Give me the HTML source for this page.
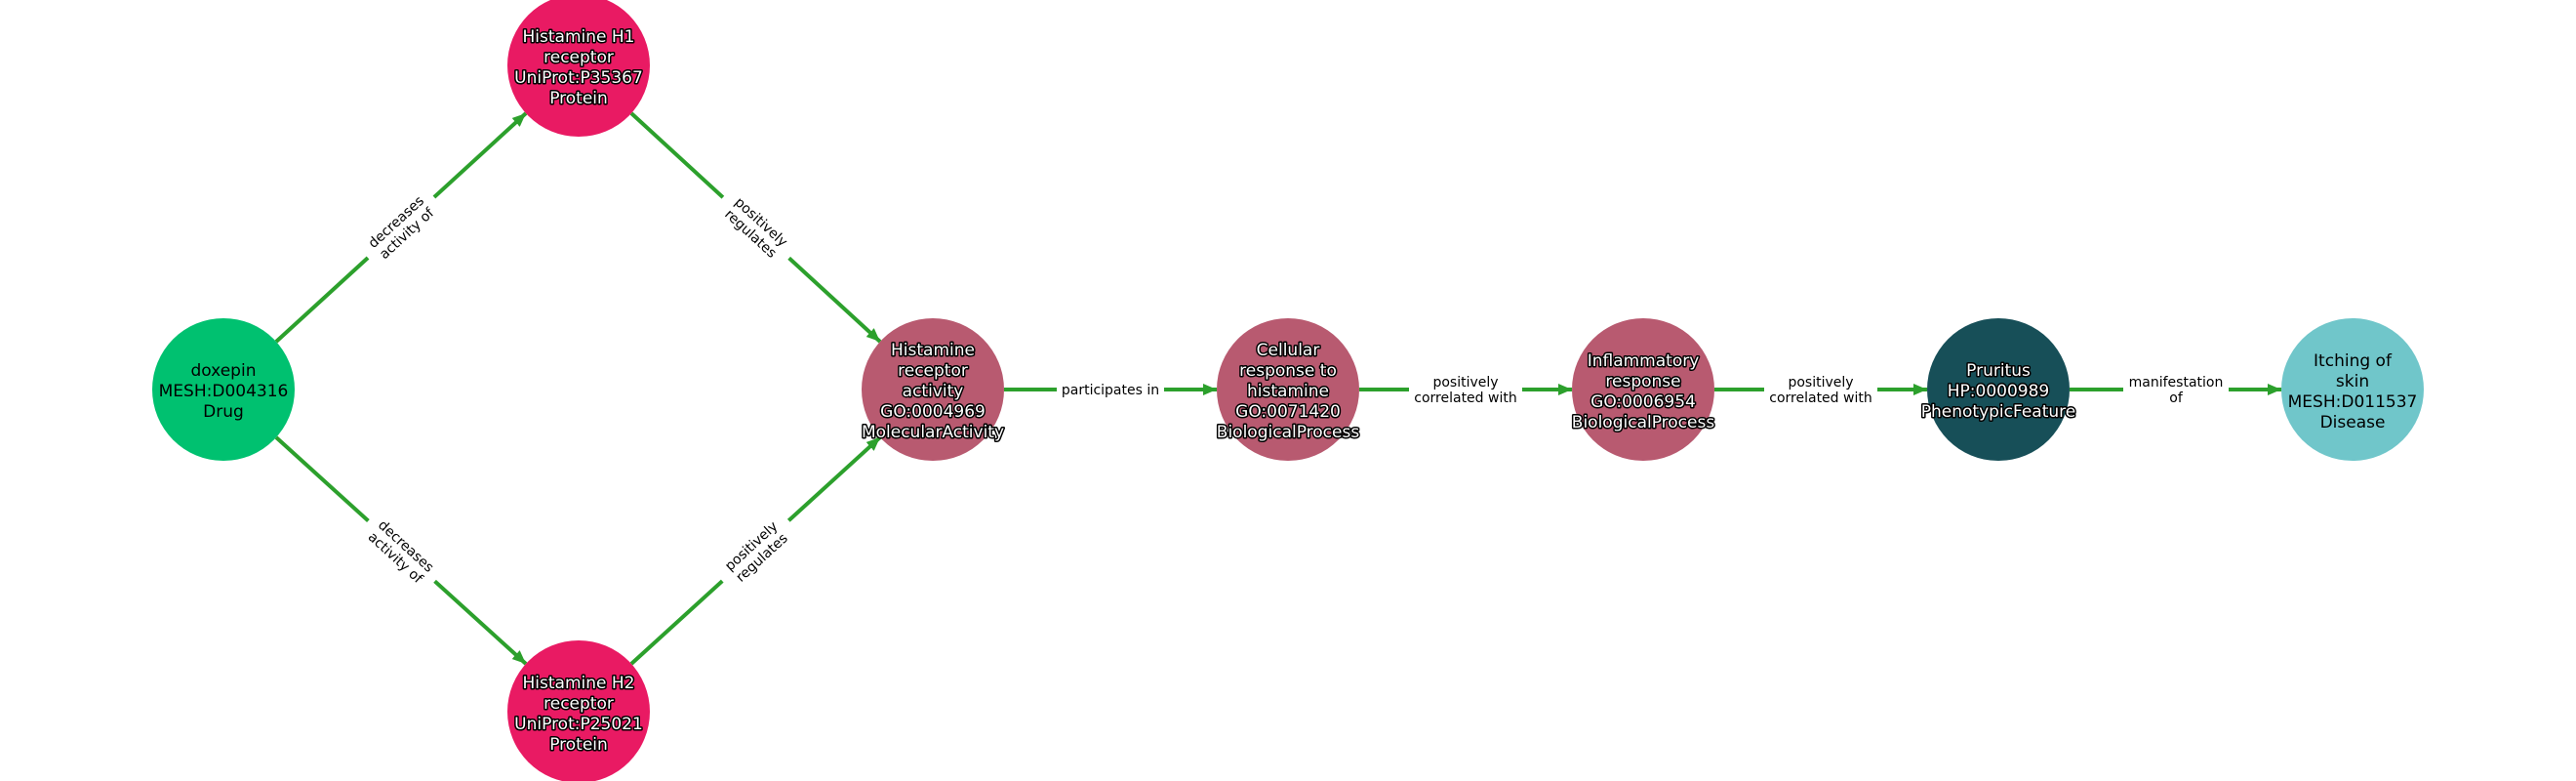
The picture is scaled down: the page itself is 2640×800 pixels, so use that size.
<!DOCTYPE html>
<html><head><meta charset="utf-8"><style>
html,body{margin:0;padding:0;background:#fff;}
svg{display:block;}
.n{font-family:"DejaVu Sans","Liberation Sans",sans-serif;font-size:17px;text-anchor:middle;}
.w{fill:#fff;stroke:#000;stroke-width:3;paint-order:stroke;stroke-linejoin:round;}
.b{fill:#000;}
.l{font-family:"DejaVu Sans","Liberation Sans",sans-serif;font-size:14px;text-anchor:middle;fill:#000;}
.e{stroke:#2ca02c;stroke-width:4;fill:none;}
</style></head><body>
<svg width="2640" height="800" viewBox="0 0 2640 800" xmlns="http://www.w3.org/2000/svg">
<defs>
<marker id="a" markerUnits="userSpaceOnUse" markerWidth="16" markerHeight="14" refX="14" refY="7" orient="auto">
<path d="M0,1 L14,7 L0,13 z" fill="#2ca02c"/>
</marker>
</defs>
<!-- edges -->
<line class="e" x1="283" y1="350" x2="539" y2="116" marker-end="url(#a)"/>
<line class="e" x1="283" y1="448" x2="539" y2="680" marker-end="url(#a)"/>
<line class="e" x1="647" y1="116" x2="902" y2="350" marker-end="url(#a)"/>
<line class="e" x1="647" y1="680" x2="902" y2="448" marker-end="url(#a)"/>
<line class="e" x1="1029" y1="399" x2="1247" y2="399" marker-end="url(#a)"/>
<line class="e" x1="1393" y1="399" x2="1611" y2="399" marker-end="url(#a)"/>
<line class="e" x1="1757" y1="399" x2="1975" y2="399" marker-end="url(#a)"/>
<line class="e" x1="2121" y1="399" x2="2338" y2="399" marker-end="url(#a)"/>
<!-- edge labels -->
<g transform="translate(411,233) rotate(-42.4)"><rect x="-46" y="-20" width="92" height="40" fill="#fff"/><text class="l" y="-3">decreases</text><text class="l" y="13">activity of</text></g>
<g transform="translate(411,565) rotate(42.4)"><rect x="-46" y="-20" width="92" height="40" fill="#fff"/><text class="l" y="-3">decreases</text><text class="l" y="13">activity of</text></g>
<g transform="translate(775,233) rotate(42.4)"><rect x="-46" y="-20" width="92" height="40" fill="#fff"/><text class="l" y="-3">positively</text><text class="l" y="13">regulates</text></g>
<g transform="translate(775,565) rotate(-42.4)"><rect x="-46" y="-20" width="92" height="40" fill="#fff"/><text class="l" y="-3">positively</text><text class="l" y="13">regulates</text></g>
<rect x="1083" y="385" width="110" height="28" fill="#fff"/><text class="l" x="1138" y="404">participates in</text>
<rect x="1444" y="380" width="116" height="38" fill="#fff"/><text class="l" x="1502" y="396">positively</text><text class="l" x="1502" y="412">correlated with</text>
<rect x="1808" y="380" width="116" height="38" fill="#fff"/><text class="l" x="1866" y="396">positively</text><text class="l" x="1866" y="412">correlated with</text>
<rect x="2176" y="380" width="108" height="38" fill="#fff"/><text class="l" x="2230" y="396">manifestation</text><text class="l" x="2230" y="412">of</text>
<!-- nodes -->
<circle cx="229" cy="399" r="73" fill="#00c170"/>
<text class="n b" x="229"><tspan x="229" y="385">doxepin</tspan><tspan x="229" y="406">MESH:D004316</tspan><tspan x="229" y="427">Drug</tspan></text>
<circle cx="593" cy="67" r="73" fill="#e91a63"/>
<text class="n w"><tspan x="593" y="43">Histamine H1</tspan><tspan x="593" y="64">receptor</tspan><tspan x="593" y="85">UniProt:P35367</tspan><tspan x="593" y="106">Protein</tspan></text>
<circle cx="593" cy="729" r="73" fill="#e91a63"/>
<text class="n w"><tspan x="593" y="705">Histamine H2</tspan><tspan x="593" y="726">receptor</tspan><tspan x="593" y="747">UniProt:P25021</tspan><tspan x="593" y="768">Protein</tspan></text>
<circle cx="956" cy="399" r="73" fill="#b85a70"/>
<text class="n w"><tspan x="956" y="364">Histamine</tspan><tspan x="956" y="385">receptor</tspan><tspan x="956" y="406">activity</tspan><tspan x="956" y="427">GO:0004969</tspan><tspan x="956" y="448">MolecularActivity</tspan></text>
<circle cx="1320" cy="399" r="73" fill="#b85a70"/>
<text class="n w"><tspan x="1320" y="364">Cellular</tspan><tspan x="1320" y="385">response to</tspan><tspan x="1320" y="406">histamine</tspan><tspan x="1320" y="427">GO:0071420</tspan><tspan x="1320" y="448">BiologicalProcess</tspan></text>
<circle cx="1684" cy="399" r="73" fill="#b85a70"/>
<text class="n w"><tspan x="1684" y="375">Inflammatory</tspan><tspan x="1684" y="396">response</tspan><tspan x="1684" y="417">GO:0006954</tspan><tspan x="1684" y="438">BiologicalProcess</tspan></text>
<circle cx="2048" cy="399" r="73" fill="#174f58"/>
<text class="n w"><tspan x="2048" y="385">Pruritus</tspan><tspan x="2048" y="406">HP:0000989</tspan><tspan x="2048" y="427">PhenotypicFeature</tspan></text>
<circle cx="2411" cy="399" r="73" fill="#70c6ca"/>
<text class="n b"><tspan x="2411" y="375">Itching of</tspan><tspan x="2411" y="396">skin</tspan><tspan x="2411" y="417">MESH:D011537</tspan><tspan x="2411" y="438">Disease</tspan></text>
</svg>
</body></html>
